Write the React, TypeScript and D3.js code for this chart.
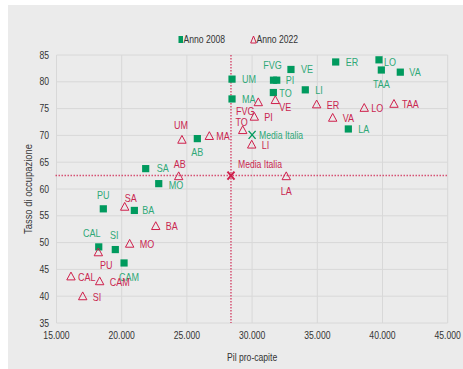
import React from "react";
import * as d3 from "d3";

// ---- Data ----
const regions2008 = ["UM", "MA", "PI", "FVG", "VE", "TO", "LI", "ER", "LO", "TAA", "VA", "LA", "AB", "SA", "MO", "PU", "BA", "CAL", "SI", "CAM"];
const pil2008 = [28460, 28460, 31890, 31640, 32980, 31630, 34080, 36410, 39730, 39910, 41365, 37380, 25800, 21840, 22840, 18590, 20970, 18240, 19510, 20180];
const occ2008 = [80.5, 76.8, 80.3, 80.3, 82.3, 78.0, 78.5, 83.7, 84.1, 82.2, 81.8, 71.2, 69.4, 63.8, 61.0, 56.3, 56.0, 49.2, 48.7, 46.2];

const regions2022 = ["FVG", "VE", "PI", "TO", "LI", "MA", "ER", "LO", "TAA", "VA", "LA", "UM", "AB", "SA", "BA", "MO", "PU", "CAL", "CAM", "SI"];
const pil2022 = [30475, 31780, 30170, 29280, 29970, 26720, 34950, 38600, 40880, 36180, 32620, 24620, 24370, 20230, 22610, 20610, 18210, 16110, 18310, 17010];
const occ2022 = [76.1, 76.5, 73.4, 70.9, 68.2, 69.8, 75.7, 75.05, 75.8, 73.2, 62.3, 69.1, 62.3, 56.6, 53.0, 49.7, 48.1, 43.6, 42.7, 39.9];

const media2008 = { pil: 30000, occ: 70.1 };
const media2022 = { pil: 28380, occ: 62.5 };
const mediaLabel = "Media Italia";

const xTicks = [15000, 20000, 25000, 30000, 35000, 40000, 45000];
const yTicks = [35, 40, 45, 50, 55, 60, 65, 70, 75, 80, 85];
const seriesNames = ["Anno 2008", "Anno 2022"];
const xTitle = "Pil pro-capite";
const yTitle = "Tasso di occupazione";

// ---- Label placement (styling) ----
type Anchor = "start" | "middle" | "end";
type Place = [number, number, Anchor];
const place2008: Record<string, Place> = {
  UM: [10, 0, "start"], MA: [10, 0, "start"], PI: [9, 0, "start"], FVG: [-1, -15, "middle"],
  VE: [10, 0, "start"], TO: [6, 1, "start"], LI: [10, 0, "start"], ER: [10, 0, "start"],
  LO: [5, 2, "start"], TAA: [0, 14, "middle"], VA: [9, 0, "start"], LA: [10, 0, "start"],
  AB: [0, 14, "middle"], SA: [11, 0, "start"], MO: [10, 1, "start"], PU: [0, -14, "middle"],
  BA: [8, 0, "start"], CAL: [-7, -14, "middle"], SI: [-1, -14, "middle"], CAM: [5, 14, "middle"],
};
const place2022: Record<string, Place> = {
  FVG: [-13, 8, "middle"], VE: [4, 7, "start"], PI: [10, 0, "start"], TO: [-1, -8, "middle"],
  LI: [10, 0, "start"], MA: [7, 0, "start"], ER: [10, 0, "start"], LO: [7, 0, "start"],
  TAA: [8, 0, "start"], VA: [10, 0, "start"], LA: [0, 14, "middle"], UM: [-1, -15, "middle"],
  AB: [1, -13, "middle"], SA: [6, -9, "middle"], BA: [10, 0, "start"], MO: [10, 0, "start"],
  PU: [8, 12, "middle"], CAL: [7, 0, "start"], CAM: [10, 0, "start"], SI: [10, 0, "start"],
};

const GREEN = "#009a5e";
const GREEN_TXT = "#2ea877";
const RED = "#cf1f4b";
const RED_TXT = "#c92650";
const GRID = "#d8d8d8";
const TXT = "#333333";
const FONT = "'Liberation Sans', Arial, sans-serif";
const SX = 0.82;

const fmtLocale = d3.formatLocale({ decimal: ",", thousands: ".", grouping: [3], currency: ["€", ""] });
const fmtX = fmtLocale.format(",.0f");

function NText(props: { x: number; y: number; anchor?: Anchor; size?: number; fill: string; rotate?: number; children: React.ReactNode }) {
  const { x, y, anchor = "start", size = 10, fill, rotate = 0, children } = props;
  return (
    <text
      transform={`translate(${x},${y}) rotate(${rotate}) scale(${SX},1)`}
      dy="0.35em"
      textAnchor={anchor}
      fontSize={size}
      fill={fill}
    >
      {children}
    </text>
  );
}

export default function App() {
  const W = 463, H = 369;
  const x = d3.scaleLinear().domain([15000, 45000]).range([56.5, 447.7]);
  const y = d3.scaleLinear().domain([35, 85]).range([323, 55]);
  const tri = (cx: number, cy: number) => `M${cx},${cy - 4.8}L${cx + 4.2},${cy + 3}L${cx - 4.2},${cy + 3}Z`;

  const xm = x(media2022.pil), ym = y(media2022.occ);
  const gx = x(media2008.pil), gy = y(media2008.occ);

  return (
    <svg width={W} height={H} style={{ position: "absolute", left: 0, top: 0 }} fontFamily={FONT}>
      <rect x={8} y={5} width={455} height={364} fill="#ebebeb" />
      {/* grid */}
      {yTicks.map((t) => (
        <line key={"gy" + t} x1={x(15000)} x2={x(45000)} y1={y(t)} y2={y(t)} stroke={GRID} strokeWidth={1} />
      ))}
      {xTicks.map((t) => (
        <line key={"gx" + t} x1={x(t)} x2={x(t)} y1={y(35)} y2={y(85)} stroke={GRID} strokeWidth={1} />
      ))}
      {/* tick labels */}
      {yTicks.map((t) => (
        <NText key={"ty" + t} x={49} y={y(t)} anchor="end" size={10.5} fill={TXT}>{t}</NText>
      ))}
      {xTicks.map((t) => (
        <NText key={"tx" + t} x={x(t)} y={335} anchor="middle" size={10.5} fill={TXT}>{fmtX(t)}</NText>
      ))}
      <NText x={(x(15000) + x(45000)) / 2} y={357} anchor="middle" size={10.5} fill={TXT}>{xTitle}</NText>
      <NText x={28} y={(y(35) + y(85)) / 2} rotate={-90} anchor="middle" size={11.5} fill={TXT}>{yTitle}</NText>

      {/* legend */}
      <rect x={178.5} y={36} width={4.5} height={7} fill={GREEN} />
      <NText x={183.5} y={39.5} size={10.5} fill={TXT}>{seriesNames[0]}</NText>
      <path d={`M253.5,36L256.3,43L250.7,43Z`} fill="none" stroke={RED} strokeWidth={1} />
      <NText x={256.5} y={39.5} size={10.5} fill={TXT}>{seriesNames[1]}</NText>

      {/* reference lines */}
      <line x1={xm} x2={xm} y1={y(85)} y2={y(35)} stroke={RED} strokeWidth={1.5} strokeDasharray="1.5,1.5" opacity={0.75} />
      <line x1={x(15000) - 1} x2={x(45000)} y1={ym} y2={ym} stroke={RED} strokeWidth={1.5} strokeDasharray="1.5,1.5" opacity={0.75} />

      {/* 2008 squares */}
      {regions2008.map((r, i) => (
        <rect key={"s" + r} x={x(pil2008[i]) - 3.6} y={y(occ2008[i]) - 3.6} width={7.2} height={7.2} fill={GREEN} />
      ))}
      {regions2008.map((r, i) => {
        const p = place2008[r];
        return (
          <NText key={"ls" + r} x={x(pil2008[i]) + p[0]} y={y(occ2008[i]) + p[1]} anchor={p[2]} size={11} fill={GREEN_TXT}>{r}</NText>
        );
      })}

      {/* 2022 triangles */}
      {regions2022.map((r, i) => (
        <path key={"t" + r} d={tri(x(pil2022[i]), y(occ2022[i]))} fill="none" stroke={RED} strokeWidth={1} />
      ))}
      {regions2022.map((r, i) => {
        const p = place2022[r];
        return (
          <NText key={"lt" + r} x={x(pil2022[i]) + p[0]} y={y(occ2022[i]) + p[1]} anchor={p[2]} size={11} fill={RED_TXT}>{r}</NText>
        );
      })}

      {/* media Italia 2008 */}
      <path d={`M${gx - 3.5},${gy - 4}L${gx + 3.5},${gy + 4}M${gx + 3.5},${gy - 4}L${gx - 3.5},${gy + 4}`} stroke={GREEN} strokeWidth={1.4} />
      <NText x={gx + 7} y={gy} size={10.5} fill={GREEN_TXT}>{mediaLabel}</NText>

      {/* media Italia 2022 */}
      <path d={`M${xm - 3.5},${ym - 4}L${xm + 3.5},${ym + 4}M${xm + 3.5},${ym - 4}L${xm - 3.5},${ym + 4}`} stroke={RED} strokeWidth={2} />
      <NText x={xm + 7} y={ym - 11} size={10.5} fill={RED_TXT}>{mediaLabel}</NText>
    </svg>
  );
}
